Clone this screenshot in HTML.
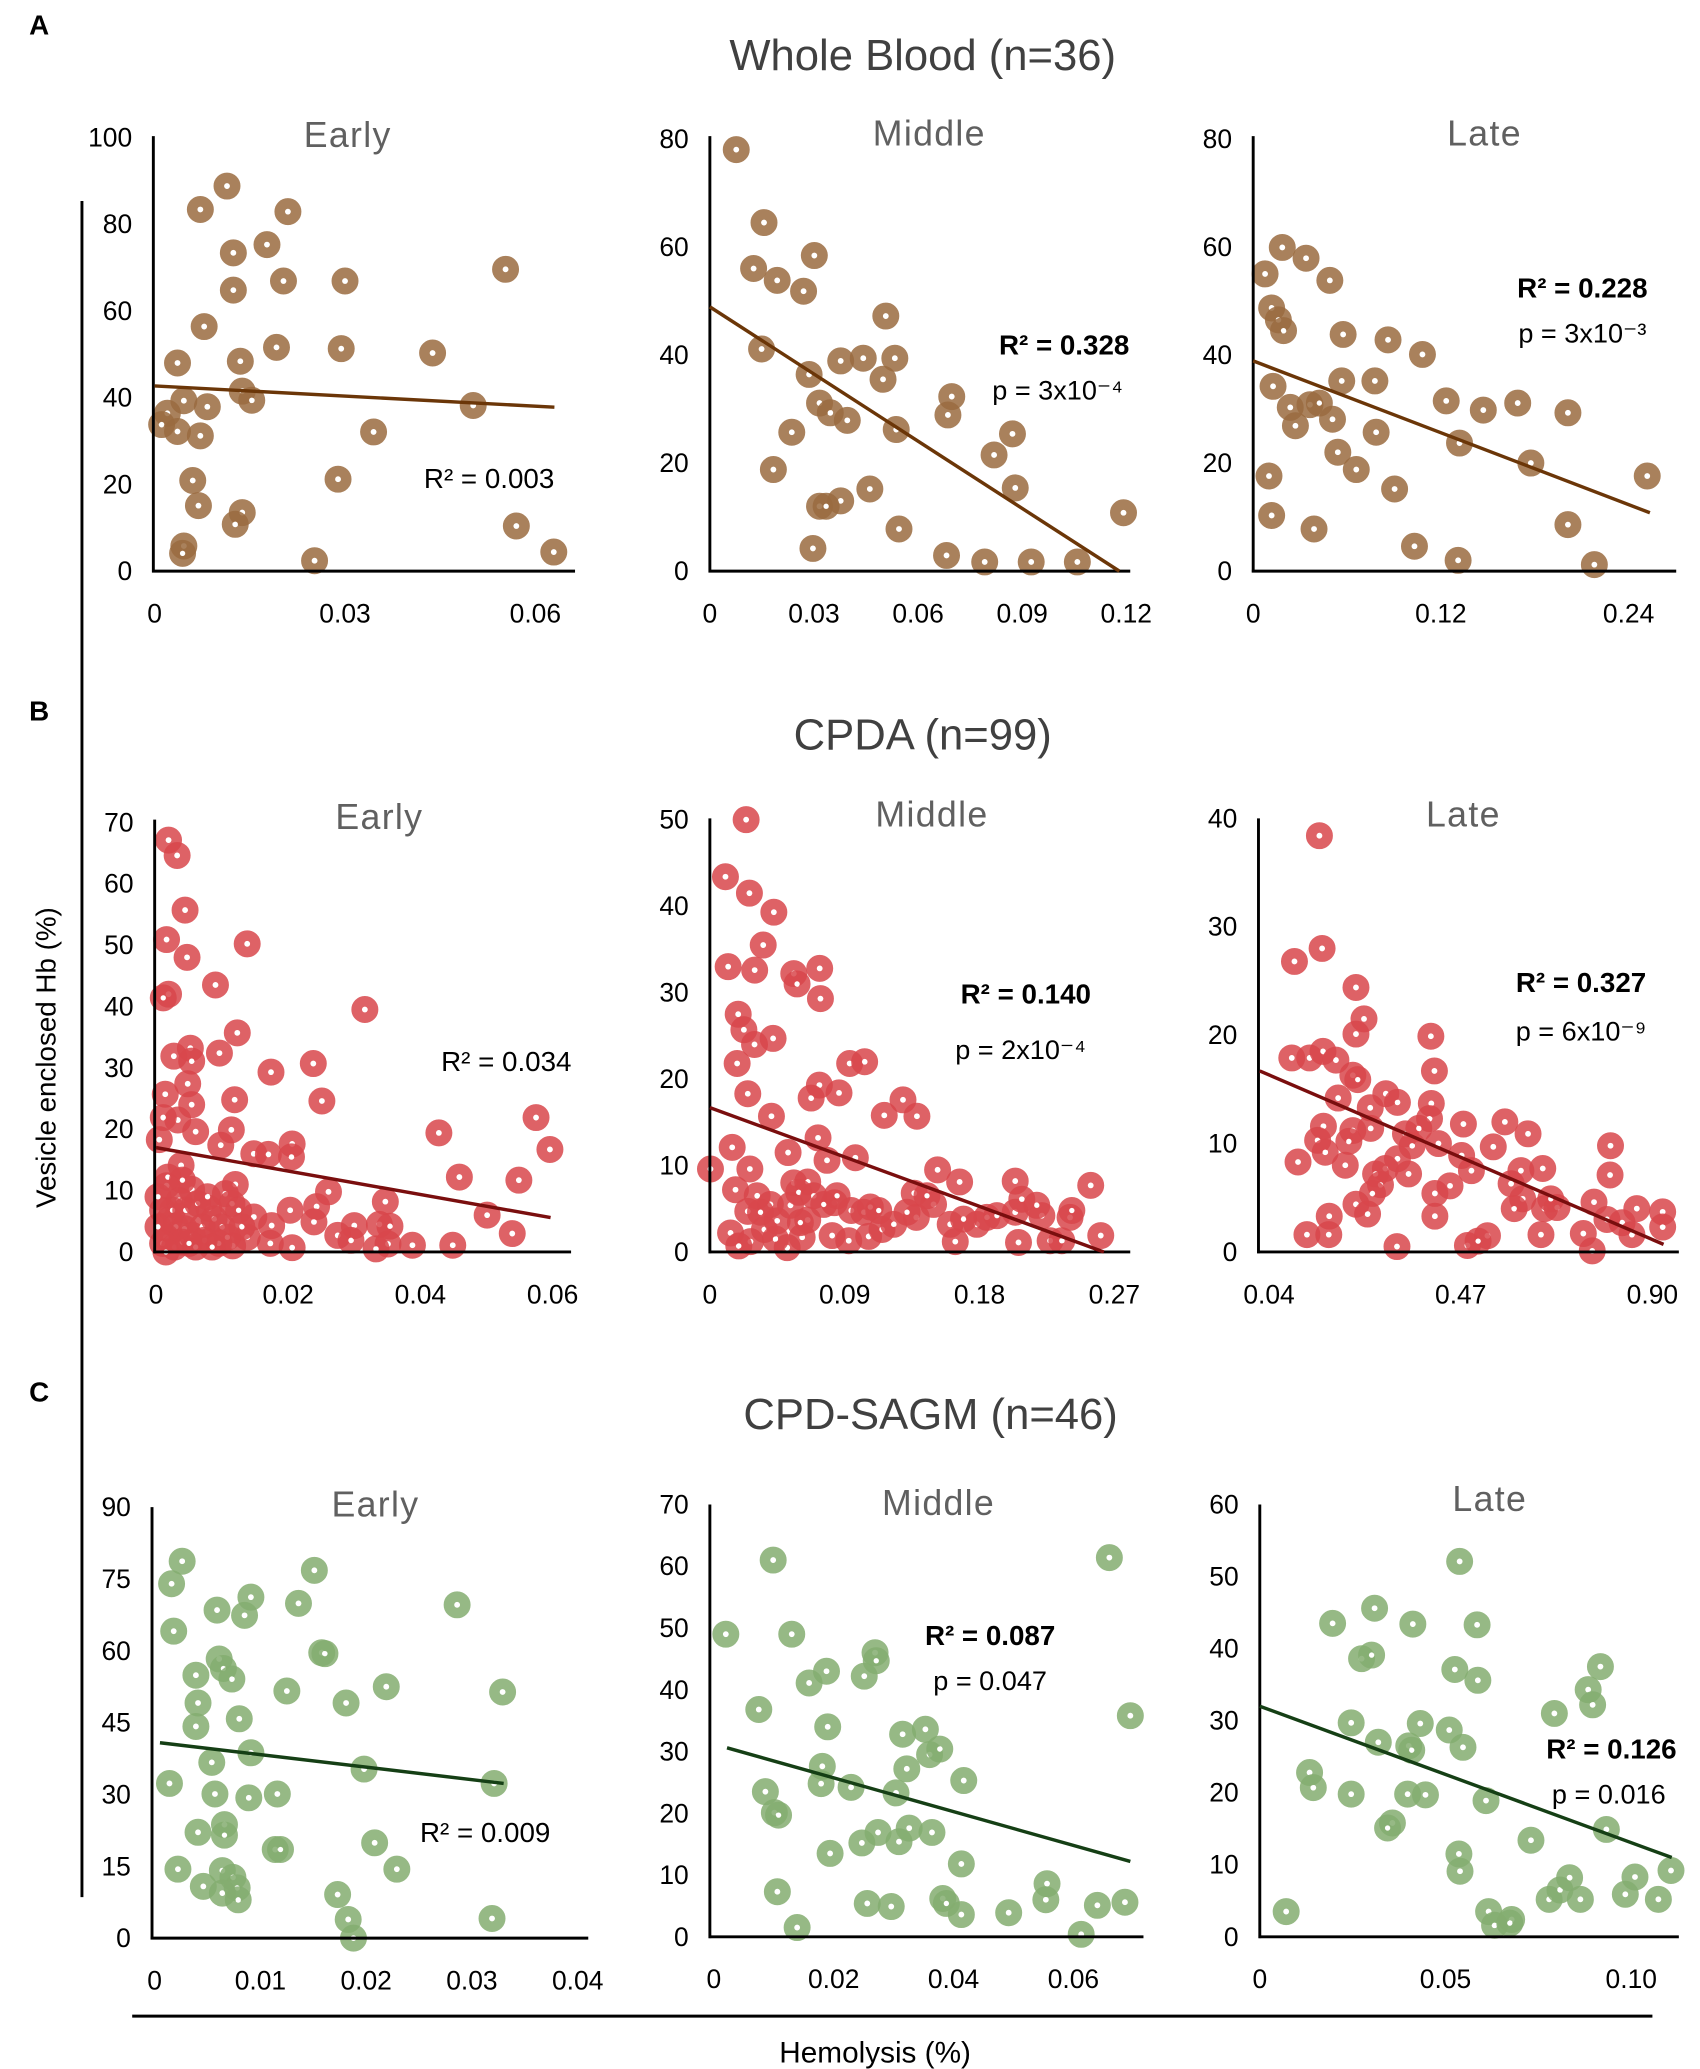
<!DOCTYPE html>
<html><head><meta charset="utf-8"><style>
html,body{margin:0;padding:0;background:#fff}
svg{display:block}
text{font-family:"Liberation Sans",sans-serif}
</style></head>
<body>
<svg id="fig" width="1700" height="2069" viewBox="0 0 1286 1565" preserveAspectRatio="none" xmlns="http://www.w3.org/2000/svg">
<text x="22" y="26" font-size="21" font-weight="bold">A</text>
<text x="22" y="545" font-size="21" font-weight="bold">B</text>
<text x="22" y="1060" font-size="21" font-weight="bold">C</text>
<text x="698" y="53" font-size="33" fill="#404040" text-anchor="middle">Whole Blood (n=36)</text>
<text x="698" y="567" font-size="33" fill="#404040" text-anchor="middle">CPDA (n=99)</text>
<text x="704" y="1081" font-size="33" fill="#404040" text-anchor="middle">CPD-SAGM (n=46)</text>
<line x1="62" y1="152" x2="62" y2="1435" stroke="#000" stroke-width="2.2"/>
<text x="0" y="0" transform="translate(42,800) rotate(-90)" font-size="21" text-anchor="middle">Vesicle enclosed Hb (%)</text>
<line x1="100" y1="1525" x2="1250" y2="1525" stroke="#000" stroke-width="2.2"/>
<text x="662" y="1560" font-size="22.5" text-anchor="middle">Hemolysis (%)</text>
<g id="plots"></g>
</svg>
<script>
// ---- data ----
const aEarlyX=[0.0114,0.0072,0.021,0.0177,0.0124,0.0203,0.030,0.0124,0.0553,0.0078,0.0192,0.0294,0.0438,0.0036,0.0135,0.0138,0.0153,0.0046,0.0083,0.002,0.0011,0.0036,0.0072,0.0345,0.0502,0.006,0.0289,0.0069,0.0138,0.0127,0.057,0.0046,0.0044,0.0629,0.0252];
const aEarlyY=[88.8,83.4,82.9,75.3,73.4,66.9,66.9,64.8,69.6,56.4,51.6,51.3,50.3,48,48.4,41.5,39.4,39.3,37.9,36.4,33.8,32.2,31.2,32.1,38.2,20.9,21.2,15.1,13.5,10.8,10.4,5.8,4.1,4.4,2.4];
const aMidX=[0.0076,0.0156,0.0126,0.0194,0.027,0.0301,0.0149,0.0183,0.0236,0.0286,0.0316,0.0347,0.0396,0.0377,0.0442,0.0533,0.0499,0.0507,0.0537,0.0377,0.0316,0.0335,0.0297,0.0461,0.0545,0.0697,0.0686,0.0682,0.0792,0.0819,0.0872,0.088,0.0926,0.1059,0.1192];
const aMidY=[78,64.5,56,53.8,51.8,58.4,41.1,18.8,25.7,36.4,31.1,29.3,27.9,38.9,39.4,39.4,35.5,47.2,26.2,13,12,12,4.2,15.2,7.8,32.3,28.9,2.9,1.7,21.5,25.4,15.4,1.7,1.7,10.8];
const aLateX=[0.0076,0.0186,0.0338,0.049,0.0118,0.0161,0.0194,0.0127,0.0101,0.0118,0.0237,0.027,0.0363,0.0423,0.0507,0.0541,0.0575,0.0659,0.0566,0.0778,0.0862,0.0786,0.0904,0.1082,0.1031,0.1234,0.1319,0.131,0.1471,0.1691,0.1775,0.2012,0.2012,0.2181,0.2519,0.0389];
const aLateY=[55,59.9,57.9,53.8,48.7,46.5,44.5,34.2,17.6,10.3,30.3,26.9,30.8,31.1,28.1,22,43.8,18.8,35.2,35.2,42.8,25.7,15.2,40.1,4.6,31.5,23.7,2,29.8,31.1,20,8.6,29.3,1.2,17.6,7.8];
const bEarlyX=[0.0019,0.0032,0.0044,0.0016,0.0138,0.0047,0.009,0.0019,0.0011,0.0316,0.0123,0.0027,0.0052,0.0054,0.0096,0.0174,0.0238,0.0048,0.0014,0.0054,0.0119,0.0251,0.0033,0.0011,0.006,0.0114,0.0428,0.0575,0.0005,0.0098,0.0148,0.017,0.0206,0.0205,0.0596,0.0038,0.0459,0.0549,0.0016,0.0054,0.012,0.0261,0.0347,0.0243,0.0203,0.0148,0.0501,0.0175,0.0239,0.03,0.0338,0.0354,0.0275,0.0539,0.0295,0.0351,0.0388,0.0449,0.0333,0.0206,0.0173,0.0116,0.0138,0.001,0.002,0.003,0.0043,0.0015,0.001,0.0028,0.004,0.0055,0.007,0.008,0.0088,0.01,0.0108,0.0095,0.0073,0.006,0.0035,0.0025,0.0045,0.0063,0.0078,0.0105,0.0115,0.0125,0.013,0.0003,0.0003,0.0018,0.004,0.005,0.0085,0.0015];
const bEarlyY=[67.1,64.6,55.7,50.9,50.2,48,43.5,42,41.4,39.5,35.7,31.9,33.2,31.1,32.4,29.3,30.7,27.4,25.7,24,24.8,24.6,21.5,21.9,19.6,19.9,19.4,21.9,18.3,17.4,16,15.9,17.6,15.5,16.7,14.1,12.2,11.7,10.8,10.2,11,9.8,8.2,7.4,6.8,5.7,6,4.3,4.9,4.3,4.5,4.2,2.7,3,1.9,1.3,1.1,1.1,0.5,0.7,1.4,1,2.4,6.8,5.2,4.1,3.8,2.4,1.4,0.8,1.6,2.7,4.1,7.1,5.4,4.1,2.4,1.4,1.9,0.8,8.4,6.8,6.8,7.9,9,9.5,7.9,6.8,4.1,4.1,9,12.2,11.7,1.4,0.8,0];
const bMidX=[0.0242,0.0104,0.0264,0.0427,0.0356,0.0122,0.0299,0.056,0.0733,0.0582,0.0738,0.0189,0.0227,0.0298,0.0422,0.0182,0.0933,0.1033,0.0253,0.0731,0.0676,0.0862,0.1164,0.1289,0.1382,0.0411,0.0722,0.0149,0.0522,0.0782,0.0971,0.0004,0.0267,0.152,0.1667,0.2038,0.2542,0.0171,0.056,0.0653,0.0831,0.0944,0.1364,0.1493,0.0253,0.0364,0.0138,0.0271,0.0516,0.0616,0.0653,0.0816,0.0927,0.106,0.1149,0.1227,0.1378,0.1604,0.1638,0.1782,0.1849,0.2038,0.206,0.2216,0.2271,0.2404,0.2609,0.2349,0.2182,0.1916,0.0404,0.0338,0.0538,0.0593,0.0693,0.076,0.0849,0.1027,0.0604,0.0438,0.0193,0.0449,0.0316,0.1071,0.1127,0.1316,0.1449,0.1693,0.2082,0.2416];
const bMidY=[50,43.4,41.5,39.3,35.5,33,32.6,32.2,32.8,31,29.3,27.5,25.7,24,24.7,21.8,21.8,22,18.3,19.3,17.8,18.4,15.8,17.6,15.7,15.7,13.2,12.1,11.5,10.6,10.9,9.6,9.6,9.5,8.1,8.2,7.7,7.2,8,8.1,5.7,4.8,6.8,5.5,4.7,2.6,2.2,1.2,0.5,1.7,3.7,1.9,1.3,1.8,2.6,3.2,4,3.2,1.2,3.2,4,4.6,1.1,4.2,1.3,4,1.9,1.3,5.4,4.2,5.5,4.6,5.4,6.9,6.5,5.5,6.5,4.6,3.4,1.5,0.7,3.6,6.5,5.2,4.8,4.6,6.5,3.8,6.1,4.8];
const bLateX=[0.153,0.159,0.097,0.235,0.253,0.235,0.403,0.091,0.131,0.161,0.19,0.228,0.411,0.239,0.195,0.302,0.328,0.404,0.267,0.4,0.476,0.569,0.621,0.162,0.228,0.268,0.346,0.149,0.219,0.42,0.543,0.806,0.166,0.105,0.211,0.328,0.301,0.472,0.494,0.605,0.654,0.805,0.279,0.353,0.29,0.446,0.412,0.583,0.609,0.235,0.272,0.261,0.412,0.658,0.686,0.769,0.798,0.865,0.923,0.832,0.923,0.175,0.125,0.174,0.327,0.485,0.53,0.65,0.745,0.765,0.854,0.509,0.376,0.361,0.59,0.672];
const bLateY=[38.4,28,26.8,24.4,21.5,20.1,19.9,17.9,17.9,18.5,17.7,16.3,16.7,15.9,14.2,14.6,13.8,13.7,13.3,12.3,11.8,12,10.9,11.6,11.2,11.4,10.9,10.3,10.2,10,9.7,9.8,9.2,8.3,8,8.6,7.7,8.9,7.5,7.5,7.7,7.1,7.2,7.2,6.2,6.1,5.4,6.3,4.9,4.4,5.4,3.5,3.3,4,4.1,4.6,3,4,3.7,2.7,2.3,3.3,1.6,1.6,0.5,0.6,1.5,1.6,1.7,0.1,1.6,1,11.4,9.8,4,4.9];
const cEarlyX=[0.0026,0.0016,0.0018,0.0059,0.0091,0.0085,0.0151,0.0136,0.0125,0.0061,0.0065,0.0073,0.0039,0.0041,0.008,0.0014,0.0022,0.0039,0.0054,0.0057,0.0091,0.0089,0.0116,0.0066,0.0066,0.0041,0.0064,0.0074,0.0078,0.0046,0.0079,0.0064,0.0114,0.0119,0.0158,0.0161,0.0181,0.0198,0.0208,0.0219,0.0229,0.0173,0.0183,0.0188,0.0286,0.0329,0.0321,0.0319];
const cEarlyY=[78.7,74,64.1,68.5,71.2,67.4,76.8,69.9,51.6,58.3,56.3,54.1,54.9,49.1,45.8,32.3,14.4,44.2,36.7,30.1,38.7,29.3,30.1,23.7,21.5,22.1,14.1,12.7,10.5,10.8,8,9.4,18.5,18.5,59.6,59.4,49.1,35.3,19.9,52.5,14.4,9.1,3.9,0,69.6,51.4,32.3,4.1];
const cMidX=[0.002,0.0099,0.0075,0.0086,0.0101,0.0108,0.0106,0.013,0.0139,0.0159,0.0188,0.019,0.0181,0.0179,0.0194,0.0229,0.0247,0.0251,0.0269,0.0271,0.0256,0.0274,0.0296,0.0309,0.0315,0.0322,0.0304,0.0326,0.0353,0.036,0.0364,0.0377,0.0382,0.0388,0.0413,0.0417,0.0413,0.0492,0.0556,0.0554,0.064,0.066,0.0686,0.0613,0.0695];
const cMidY=[49,61,36.8,23.5,20.1,19.7,7.3,49,1.5,41.1,43,34,27.6,24.8,13.5,24.2,15.2,42.2,46,44.7,5.4,16.9,4.9,15.4,32.8,27.2,23.3,17.6,33.6,29.5,16.9,30.4,6.2,5.4,11.8,25.3,3.6,3.9,8.6,6,5.1,61.4,5.6,0.4,35.8];
const cLateX=[0.0071,0.0134,0.0144,0.0196,0.0246,0.0246,0.0309,0.0274,0.0301,0.0319,0.0357,0.0344,0.0412,0.0398,0.0446,0.0401,0.0409,0.0432,0.0525,0.0538,0.051,0.0547,0.0585,0.0587,0.0536,0.0539,0.0609,0.0616,0.0632,0.0678,0.0673,0.073,0.0793,0.0779,0.0808,0.0834,0.0863,0.0884,0.0896,0.0917,0.0933,0.101,0.0984,0.1073,0.1107];
const cLateY=[3.5,22.8,20.7,43.5,29.7,19.8,45.6,38.6,39.1,27,15.8,15.1,43.4,19.8,19.7,26.5,25.9,29.6,37.1,52.1,28.7,26.3,43.3,35.6,11.5,9.1,18.9,3.5,1.6,2.4,1.9,13.4,31,5.2,6.5,8.2,5.2,34.3,32.2,37.5,14.9,8.3,5.9,5.2,9.2];
// trend lines [x1,y1,x2,y2]
const aEarlyTrend=[0,42.7,0.063,37.8], aMidTrend=[0,48.9,0.118,0], aLateTrend=[0,38.9,0.2536,10.8];
const bEarlyTrend=[0,17,0.0597,5.6], bMidTrend=[0,16.7,0.263,0], bLateTrend=[0.019,16.7,0.925,0.7];
const cEarlyTrend=[0.0005,40.8,0.033,32.3], cMidTrend=[0.0022,30.6,0.0695,12.2], cLateTrend=[0,32,0.1109,11];
// tick labels
const aEarlyYTicks=[0,20,40,60,80,100], aEarlyXTicks=["0","0.03","0.06"];
const aMidYTicks=[0,20,40,60,80], aMidXTicks=["0","0.03","0.06","0.09","0.12"];
const aLateYTicks=[0,20,40,60,80], aLateXTicks=["0","0.12","0.24"];
const bEarlyYTicks=[0,10,20,30,40,50,60,70], bEarlyXTicks=["0","0.02","0.04","0.06"];
const bMidYTicks=[0,10,20,30,40,50], bMidXTicks=["0","0.09","0.18","0.27"];
const bLateYTicks=[0,10,20,30,40], bLateXTicks=["0.04","0.47","0.90"];
const cEarlyYTicks=[0,15,30,45,60,75,90], cEarlyXTicks=["0","0.01","0.02","0.03","0.04"];
const cMidYTicks=[0,10,20,30,40,50,60,70], cMidXTicks=["0","0.02","0.04","0.06"];
const cLateYTicks=[0,10,20,30,40,50,60], cLateXTicks=["0","0.05","0.10"];

const NS="http://www.w3.org/2000/svg";
const root=document.getElementById('plots');
function mk(tag,attrs,parent){const e=document.createElementNS(NS,tag);for(const k in attrs)e.setAttribute(k,attrs[k]);(parent||root).appendChild(e);return e;}

const plots=[
 {id:'a-early',title:'Early',tx:263,ty:102,xs:aEarlyX,ys:aEarlyY,tr:aEarlyTrend,yt:aEarlyYTicks,xt:aEarlyXTicks,xm:[0,117,0.06,405],ym:[432,100,104],ax:116,axEnd:435,axTop:103,col:'#9a6b40',lc:'#6b3608',r:['R² = 0.003',null,370,362,false]},
 {id:'a-middle',title:'Middle',tx:703,ty:101,xs:aMidX,ys:aMidY,tr:aMidTrend,yt:aMidYTicks,xt:aMidXTicks,xm:[0,537,0.12,852],ym:[432,80,105],ax:537,axEnd:855,axTop:103,col:'#9a6b40',lc:'#6b3608',r:['R² = 0.328','p = 3x10⁻⁴',805,261,true,800,295]},
 {id:'a-late',title:'Late',tx:1123,ty:101,xs:aLateX,ys:aLateY,tr:aLateTrend,yt:aLateYTicks,xt:aLateXTicks,xm:[0,948,0.24,1232],ym:[432,80,105],ax:948,axEnd:1268,axTop:103,col:'#9a6b40',lc:'#6b3608',r:['R² = 0.228','p = 3x10⁻³',1197,218,true,1197,252]},
 {id:'b-early',title:'Early',tx:287,ty:618,xs:bEarlyX,ys:bEarlyY,tr:bEarlyTrend,yt:bEarlyYTicks,xt:bEarlyXTicks,xm:[0,118,0.06,418],ym:[947,70,622],ax:117,axEnd:432,axTop:620,col:'#d8474b',lc:'#7a0e0e',r:['R² = 0.034',null,383,803,false]},
 {id:'b-middle',title:'Middle',tx:705,ty:616,xs:bMidX,ys:bMidY,tr:bMidTrend,yt:bMidYTicks,xt:bMidXTicks,xm:[0,537,0.27,843],ym:[947,50,620],ax:537,axEnd:855,axTop:619,col:'#d8474b',lc:'#7a0e0e',r:['R² = 0.140','p = 2x10⁻⁴',776,752,true,772,794]},
 {id:'b-late',title:'Late',tx:1107,ty:616,xs:bLateX,ys:bLateY,tr:bLateTrend,yt:bLateYTicks,xt:bLateXTicks,xm:[0.04,960,0.90,1250],ym:[947,40,619],ax:952,axEnd:1270,axTop:619,col:'#d8474b',lc:'#7a0e0e',r:['R² = 0.327','p = 6x10⁻⁹',1196,743,true,1196,780]},
 {id:'c-early',title:'Early',tx:284,ty:1138,xs:cEarlyX,ys:cEarlyY,tr:cEarlyTrend,yt:cEarlyYTicks,xt:cEarlyXTicks,xm:[0,117,0.04,437],ym:[1466,90,1140],ax:115,axEnd:445,axTop:1140,col:'#84ad70',lc:'#153f15',r:['R² = 0.009',null,367,1386,false]},
 {id:'c-middle',title:'Middle',tx:710,ty:1137,xs:cMidX,ys:cMidY,tr:cMidTrend,yt:cMidYTicks,xt:cMidXTicks,xm:[0,540,0.06,812],ym:[1465,70,1138],ax:537,axEnd:865,axTop:1138,col:'#84ad70',lc:'#153f15',r:['R² = 0.087','p = 0.047',749,1237,true,749,1271]},
 {id:'c-late',title:'Late',tx:1127,ty:1134,xs:cLateX,ys:cLateY,tr:cLateTrend,yt:cLateYTicks,xt:cLateXTicks,xm:[0,953,0.10,1234],ym:[1465,60,1138],ax:953,axEnd:1270,axTop:1138,col:'#84ad70',lc:'#153f15',r:['R² = 0.126','p = 0.016',1219,1323,true,1217,1357]}
];

plots.forEach(p=>{
  const g=mk('g',{});
  
  
  const X=v=>p.xm[1]+(v-p.xm[0])*(p.xm[3]-p.xm[1])/(p.xm[2]-p.xm[0]);
  const Y=v=>p.ym[0]-v*(p.ym[0]-p.ym[2])/p.ym[1];
  const base=p.ym[0];
  const t=mk('text',{x:p.tx,y:p.ty,'font-size':27,fill:'#606060','text-anchor':'middle','dominant-baseline':'central','letter-spacing':'1'},g);
  t.textContent=p.title;
  
  
  p.yt.forEach(v=>{
    const e=mk('text',{x:p.ax-16,y:Y(v),'font-size':20,'text-anchor':'end','dominant-baseline':'central'},g);
    e.textContent=String(v);
    
    
  });
  p.xt.forEach(s=>{
    const e=mk('text',{x:X(parseFloat(s)),y:base+32,'font-size':20,'text-anchor':'middle','dominant-baseline':'central'},g);
    e.textContent=s;
    
    
  });
  p.xs.forEach((xv,i)=>{
    const cx=X(xv), cy=Y(p.ys[i]);
    const c=mk('circle',{cx:cx,cy:cy,r:6.2,fill:'none',stroke:p.col,'stroke-width':8,'stroke-opacity':0.85},g);
    
    
    const d=mk('circle',{cx:cx,cy:cy,r:2,fill:'#fff'},g);
    
    
  });
  const ya=mk('line',{x1:p.ax,y1:p.axTop,x2:p.ax,y2:base+1,stroke:'#000','stroke-width':2.2},g);
  
  
  const xa=mk('line',{x1:p.ax-1,y1:base,x2:p.axEnd,y2:base,stroke:'#000','stroke-width':2.2},g);
  
  
  const tl=mk('line',{x1:X(p.tr[0]),y1:Y(p.tr[1]),x2:X(p.tr[2]),y2:Y(p.tr[3]),stroke:p.lc,'stroke-width':2.6},g);
  
  
  const rt=mk('text',{x:p.r[2],y:p.r[3],'font-size':21,'text-anchor':'middle','dominant-baseline':'central','font-weight':p.r[4]?'bold':'normal'},g);
  rt.textContent=p.r[0];
  
  
  if(p.r[1]){
    const pt=mk('text',{x:p.r[5],y:p.r[6],'font-size':20.5,'text-anchor':'middle','dominant-baseline':'central'},g);
    pt.textContent=p.r[1];
    
    
  }
});
</script>
</body></html>
